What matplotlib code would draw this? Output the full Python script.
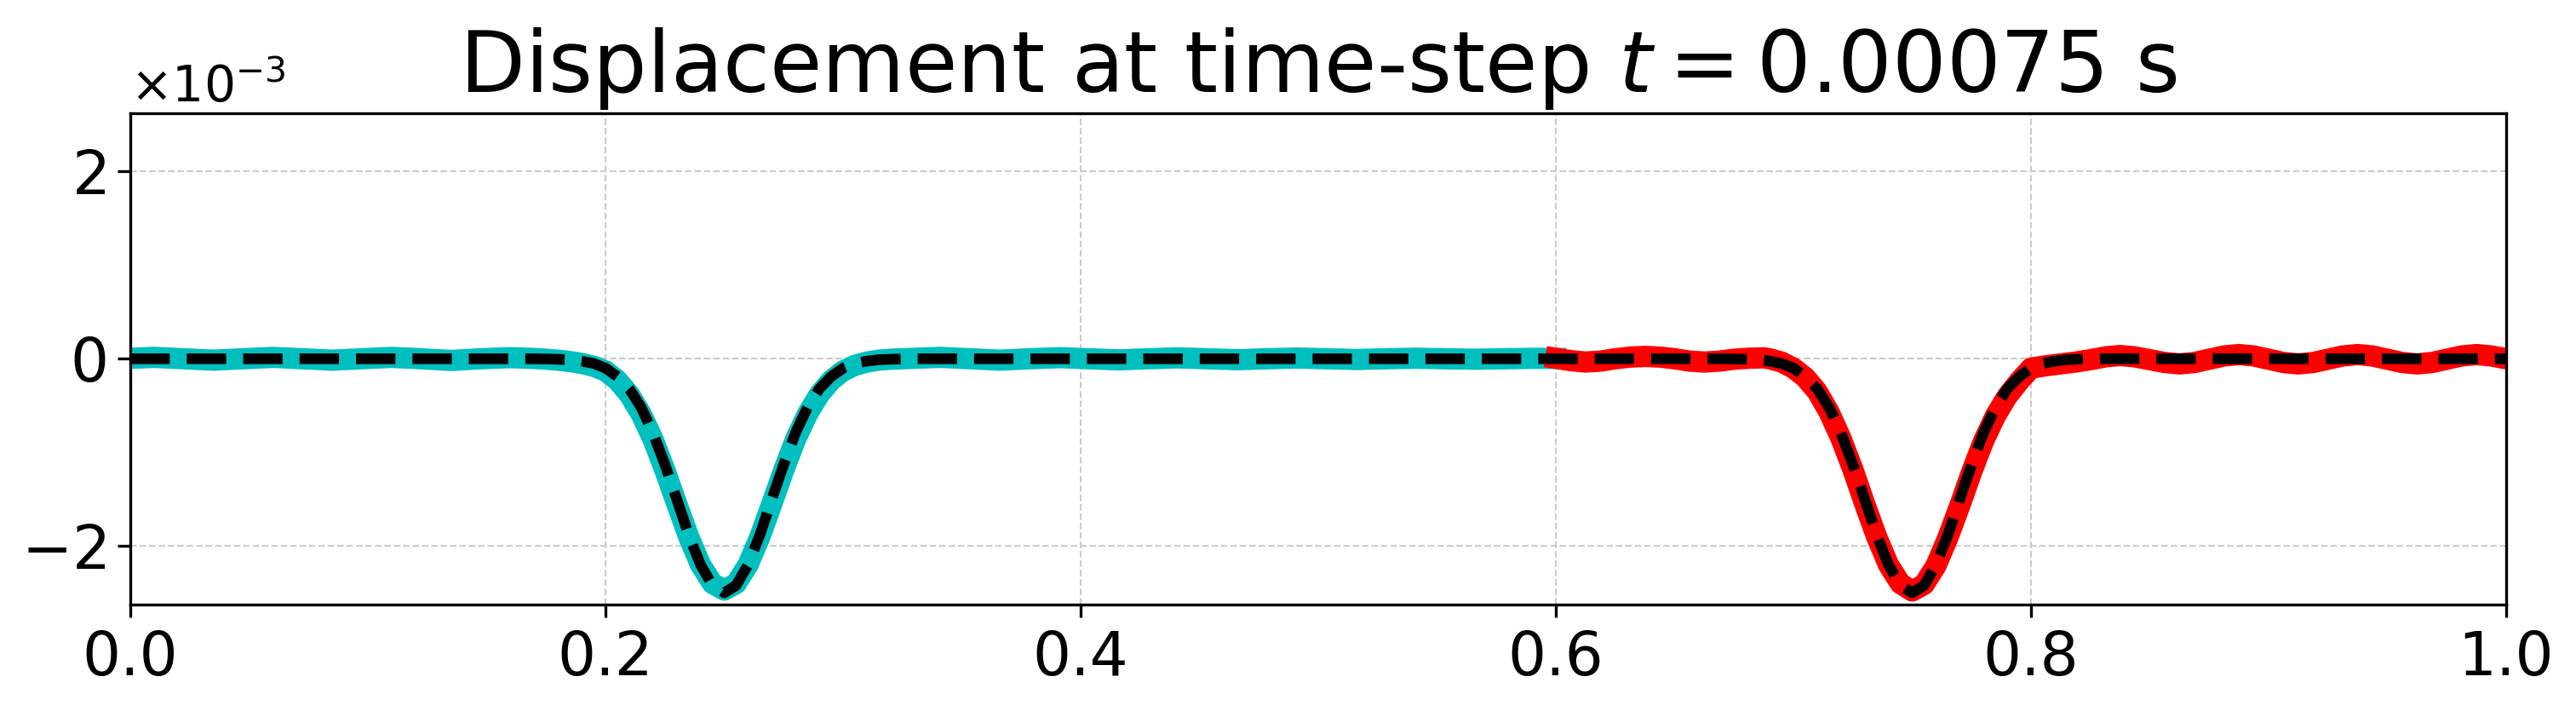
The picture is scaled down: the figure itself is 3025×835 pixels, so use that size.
import matplotlib
matplotlib.use('Agg')
import matplotlib.pyplot as plt
import numpy as np

# values are in units of 1e-3
SCALE = 1e-3

# exact solution (black dashed)
x_exact = [0.00, 0.10, 0.17, 0.18, 0.185, 0.19, 0.195, 0.20, 0.205, 0.21, 0.215,
           0.22, 0.225, 0.23, 0.235, 0.24, 0.245, 0.25, 0.255, 0.26, 0.265, 0.27,
           0.275, 0.28, 0.285, 0.29, 0.295, 0.30, 0.305, 0.31, 0.315, 0.32, 0.33,
           0.50, 0.67, 0.68, 0.685, 0.69, 0.695, 0.70, 0.705, 0.71, 0.715,
           0.72, 0.725, 0.73, 0.735, 0.74, 0.745, 0.75, 0.755, 0.76, 0.765, 0.77,
           0.775, 0.78, 0.785, 0.79, 0.795, 0.80, 0.805, 0.81, 0.815, 0.82, 0.83,
           1.00]
y_exact = [0.0, 0.0, 0.0, -0.005, -0.01, -0.025, -0.05, -0.10, -0.19, -0.32, -0.52,
           -0.79, -1.13, -1.50, -1.88, -2.20, -2.42, -2.50, -2.42, -2.20, -1.88, -1.50,
           -1.13, -0.79, -0.52, -0.32, -0.19, -0.10, -0.05, -0.025, -0.01, -0.005, 0.0,
           0.0, 0.0, -0.005, -0.01, -0.025, -0.05, -0.10, -0.19, -0.32, -0.52,
           -0.79, -1.13, -1.50, -1.88, -2.20, -2.42, -2.50, -2.42, -2.20, -1.88, -1.50,
           -1.13, -0.79, -0.52, -0.32, -0.19, -0.10, -0.05, -0.025, -0.01, -0.005, 0.0,
           0.0]

# numerical solution, first part (cyan)
x_cyan = [0.0, 0.01, 0.0225, 0.035, 0.0475, 0.06, 0.0725, 0.085, 0.0975, 0.11,
          0.1225, 0.135, 0.1475, 0.16, 0.17, 0.175, 0.18, 0.185, 0.19, 0.195,
          0.20, 0.205, 0.21, 0.215, 0.22, 0.225, 0.23, 0.235, 0.24, 0.245, 0.25,
          0.255, 0.26, 0.265, 0.27, 0.275, 0.28, 0.285, 0.29, 0.295, 0.30, 0.305,
          0.31, 0.315, 0.32, 0.33, 0.341, 0.3535, 0.366, 0.3785, 0.391, 0.4035,
          0.416, 0.4285, 0.441, 0.4535, 0.466, 0.4785, 0.491, 0.5035, 0.516,
          0.5285, 0.541, 0.5535, 0.566, 0.5785, 0.591, 0.60]
y_cyan = [0.005, 0.015, 0.0, -0.015, 0.0, 0.015, 0.0, -0.015, 0.0, 0.015,
          0.0, -0.018, 0.0, 0.012, 0.003, -0.005, -0.015, -0.03, -0.05, -0.08,
          -0.13, -0.23, -0.38, -0.59, -0.86, -1.19, -1.55, -1.90, -2.20, -2.40, -2.47,
          -2.40, -2.20, -1.90, -1.55, -1.19, -0.86, -0.59, -0.38, -0.23, -0.13, -0.07,
          -0.035, -0.015, -0.005, 0.005, 0.015, 0.0, -0.015, 0.0, 0.012, 0.0,
          -0.012, 0.0, 0.01, 0.0, -0.01, 0.0, 0.008, 0.0, -0.008,
          0.0, 0.006, 0.0, -0.005, 0.0, 0.005, 0.003]

# numerical solution, second part (red)
x_red = [0.60, 0.60625, 0.6125, 0.61875, 0.625, 0.63125, 0.6375, 0.64375, 0.65,
         0.65625, 0.6625, 0.66875, 0.675, 0.68125, 0.6875, 0.69, 0.695,
         0.70, 0.705, 0.71, 0.715, 0.72, 0.725, 0.73, 0.735, 0.74, 0.745, 0.75,
         0.755, 0.76, 0.765, 0.77, 0.775, 0.78, 0.785, 0.79, 0.795, 0.80,
         0.80625, 0.8125, 0.81875, 0.825, 0.83125, 0.8375, 0.84375, 0.85,
         0.85625, 0.8625, 0.86875, 0.875, 0.88125, 0.8875, 0.89375, 0.90,
         0.90625, 0.9125, 0.91875, 0.925, 0.93125, 0.9375, 0.94375, 0.95,
         0.95625, 0.9625, 0.96875, 0.975, 0.98125, 0.9875, 0.99375, 1.00]
y_red = [0.005, -0.02, -0.035, -0.025, 0.0, 0.018, 0.025, 0.018, 0.0,
         -0.025, -0.035, -0.025, -0.005, 0.006, 0.01, 0.0, -0.035,
         -0.10, -0.20, -0.35, -0.57, -0.85, -1.18, -1.55, -1.90, -2.20, -2.40, -2.48,
         -2.41, -2.21, -1.91, -1.57, -1.21, -0.88, -0.61, -0.40, -0.24, -0.10,
         -0.075, -0.055, -0.035, -0.01, 0.02, 0.035, 0.02, -0.01,
         -0.04, -0.055, -0.04, -0.005, 0.03, 0.045, 0.03, -0.005,
         -0.04, -0.055, -0.04, -0.005, 0.03, 0.045, 0.03, -0.005,
         -0.04, -0.055, -0.04, -0.005, 0.03, 0.045, 0.03, 0.0]

x_ticks = [0.0, 0.2, 0.4, 0.6, 0.8, 1.0]
y_ticks = [-2, 0, 2]
title = r'Displacement at time-step $t = 0.00075$ s'

fig = plt.figure(figsize=(3025 / 300, 835 / 300), dpi=300)
ax = fig.add_axes([0.0506, 0.1497, 0.9223, 0.6914])

ax.plot(x_cyan, np.array(y_cyan) * SCALE, color='c', lw=6)
ax.plot(x_red, np.array(y_red) * SCALE, color='r', lw=6)
ax.plot(x_exact, np.array(y_exact) * SCALE, color='k', lw=3, linestyle='--')

ax.set_xlim(0, 1)
ax.set_ylim(-2.625e-3, 2.625e-3)
ax.set_xticks(x_ticks)
ax.set_yticks(np.array(y_ticks) * SCALE)
ax.ticklabel_format(axis='y', style='sci', scilimits=(0, 0), useMathText=True)
ax.tick_params(labelsize=17)
ax.yaxis.get_offset_text().set_fontsize(14)
ax.grid(True, linestyle='--', linewidth=0.5, color='#cccccc')
ax.set_axisbelow(True)
ax.set_title(title, fontsize=24)

fig.savefig('out.png', dpi=300)
plt.close(fig)
